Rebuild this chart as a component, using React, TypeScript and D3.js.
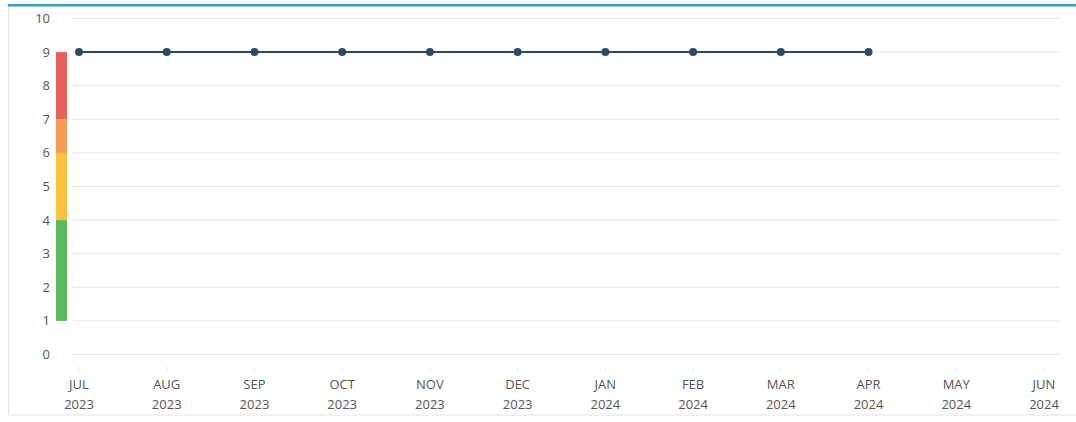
import React from "react";
import * as d3 from "d3";

const months = ["JUL", "AUG", "SEP", "OCT", "NOV", "DEC", "JAN", "FEB", "MAR", "APR", "MAY", "JUN"];
const years = ["2023", "2023", "2023", "2023", "2023", "2023", "2024", "2024", "2024", "2024", "2024", "2024"];
const values: (number | null)[] = [9, 9, 9, 9, 9, 9, 9, 9, 9, 9, null, null];
const yTicks = [0, 1, 2, 3, 4, 5, 6, 7, 8, 9, 10];
const bands = [
  { from: 1, to: 4, color: "#5cb85c" },
  { from: 4, to: 6, color: "#fbc43f" },
  { from: 6, to: 7, color: "#f59a50" },
  { from: 7, to: 9, color: "#e8605a" },
];

export default function App() {
  const W = 1076, H = 422;
  const x = d3.scalePoint<string>().domain(months.map((m, i) => m + i)).range([79, 1044]);
  const y = d3.scaleLinear().domain([0, 10]).range([354.5, 18.5]);
  const pts = values
    .map((v, i) => ({ v, i }))
    .filter((d) => d.v != null) as { v: number; i: number }[];
  const line = d3
    .line<{ v: number; i: number }>()
    .x((d) => x(months[d.i] + d.i)!)
    .y((d) => y(d.v));
  const font = "'Open Sans', 'Noto Sans', sans-serif";
  return (
    <svg
      width={W}
      height={H}
      style={{ position: "absolute", left: 0, top: 0, display: "block" }}
    >
      <rect x={0} y={0} width={W} height={H} fill="#fff" />
      <rect x={8.5} y={5} width={1070} height={410} fill="none" stroke="#e2e2e2" />
      <rect x={8} y={4} width={1068} height={2.5} fill="#2a9fd0" />
      {yTicks.map((t) => (
        <g key={t}>
          <line x1={72} x2={1060} y1={y(t)} y2={y(t)} stroke="#e6e6e6" strokeWidth={1} />
          <text
            x={50}
            y={y(t)}
            dy="0.35em"
            textAnchor="end"
            fontSize={13}
            fill="#555"
            fontFamily={font}
          >
            {t}
          </text>
        </g>
      ))}
      {bands.map((b) => (
        <rect
          key={b.from}
          x={56}
          width={11}
          y={y(b.to)}
          height={y(b.from) - y(b.to)}
          fill={b.color}
        />
      ))}
      {months.map((m, i) => {
        const cx = x(m + i)!;
        return (
          <g key={i}>
            <line x1={cx} x2={cx} y1={366} y2={372} stroke="#eee" />
            <text x={cx} y={389} textAnchor="middle" fontSize={13} fill="#555" fontFamily={font}>
              {m}
            </text>
            <text x={cx} y={409} textAnchor="middle" fontSize={13} fill="#555" fontFamily={font}>
              {years[i]}
            </text>
          </g>
        );
      })}
      <path d={line(pts)!} fill="none" stroke="#2b4a68" strokeWidth={2} />
      {pts.map((d) => (
        <circle key={d.i} cx={x(months[d.i] + d.i)!} cy={y(d.v)} r={4} fill="#2b4a68" />
      ))}
    </svg>
  );
}
